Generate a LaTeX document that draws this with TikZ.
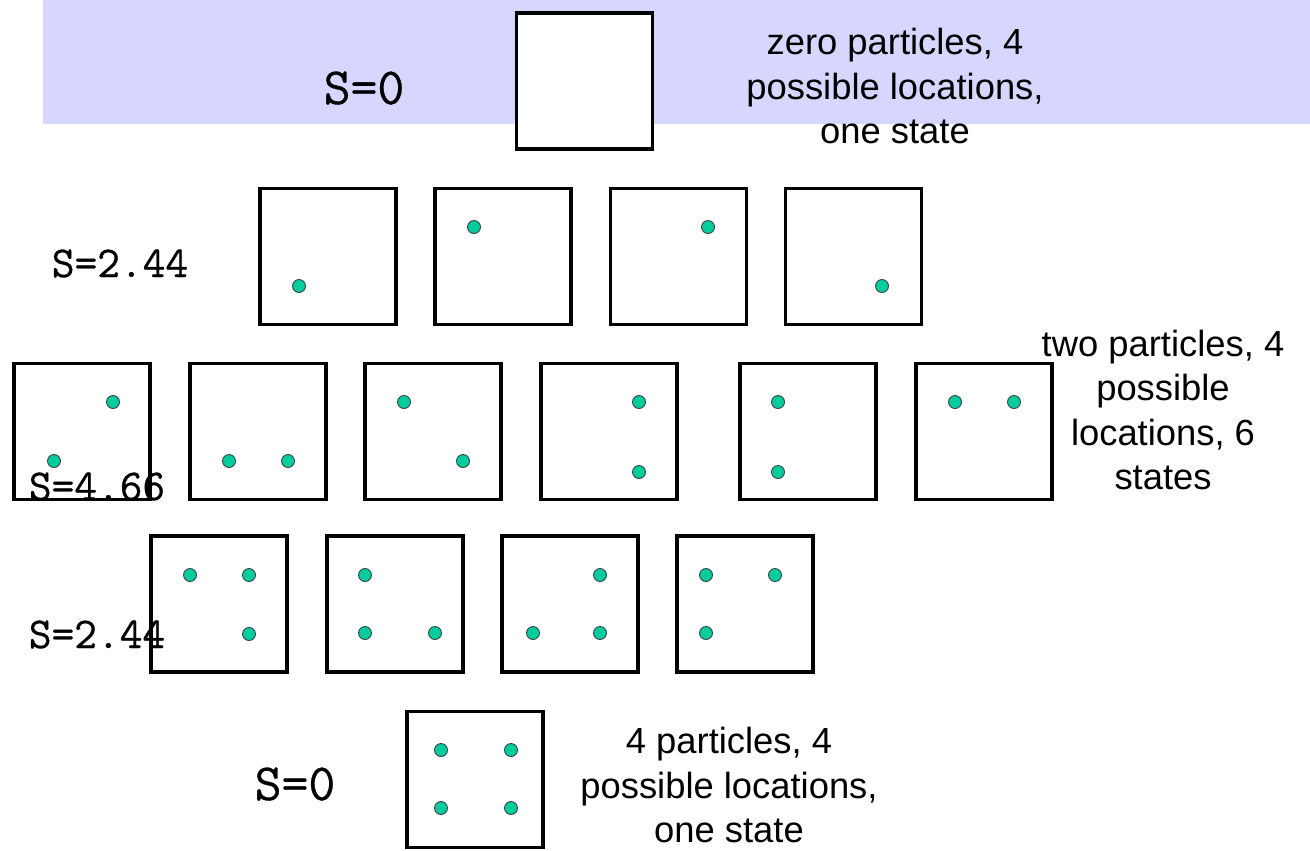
\documentclass[tikz,border=0pt]{standalone}
\usepackage{fontspec}
\setmainfont{Liberation Sans}
\newfontfamily\entfont{Latin Modern Mono}[FakeBold=0.6]
\usepackage{tikz}
\usetikzlibrary{positioning,calc}
\usepackage{xcolor}
\definecolor{bandblue}{RGB}{214,214,255}
\definecolor{particle}{RGB}{0,204,158}

\begin{document}
\begin{tikzpicture}[
  x=0.02cm, y=-0.02cm,
  cell/.style={rectangle, draw, line width=2.2pt, fill=white, minimum size=2.72cm, inner sep=0pt},
  dot/.style={circle, draw=black!75, line width=0.5pt, fill=particle, minimum size=0.26cm, inner sep=0pt},
  entropy/.style={font=\entfont\fontsize{25.1}{29}\selectfont, anchor=base, inner sep=0pt},
  bigentropy/.style={font=\entfont\fontsize{29.7}{34}\selectfont, anchor=base, inner sep=0pt},
  note/.style={font=\fontsize{20.7}{25.3}\selectfont, align=center, inner sep=0pt}
]
  \useasboundingbox (0,0) rectangle (1310,850);

  % Highlight band
  \fill[bandblue] (43,0) rectangle (1310,124);

  % Zero particles
  \node[cell] (b0) at (584.5,81) {};
  \node[bigentropy] (s0) at (364,104) {S=0};
  \node[note] (n0) at (895,86) {zero particles, 4\\possible locations,\\one state};

  % One particle
  \node[cell] (b1a) at (328,256.5) {};
  \node[cell] (b1b) at (503,256.5) {};
  \node[cell] (b1c) at (678.5,256.5) {};
  \node[cell] (b1d) at (853.5,256.5) {};
  \node[dot] (d1a) at (299,286) {};
  \node[dot] (d1b) at (474,227) {};
  \node[dot] (d1c) at (708,227) {};
  \node[dot] (d1d) at (882,286) {};
  \node[entropy] (s1) at (120,277) {S=2.44};

  % Two particles
  \node[cell] (b2a) at (82,431.5) {};
  \node[cell] (b2b) at (258,431.5) {};
  \node[cell] (b2c) at (433,431.5) {};
  \node[cell] (b2d) at (609,431.5) {};
  \node[cell] (b2e) at (808,431.5) {};
  \node[cell] (b2f) at (984,431.5) {};
  \node[dot] (d2a1) at (113,402) {};
  \node[dot] (d2a2) at (54,461) {};
  \node[dot] (d2b1) at (229,461) {};
  \node[dot] (d2b2) at (288,461) {};
  \node[dot] (d2c1) at (404,402) {};
  \node[dot] (d2c2) at (463,461) {};
  \node[dot] (d2d1) at (639,402) {};
  \node[dot] (d2d2) at (639,472) {};
  \node[dot] (d2e1) at (778,402) {};
  \node[dot] (d2e2) at (778,472) {};
  \node[dot] (d2f1) at (955,402) {};
  \node[dot] (d2f2) at (1014,402) {};
  \node[entropy] (s2) at (97,500) {S=4.66};
  \node[note] (n2) at (1163,410) {two particles, 4\\possible\\locations, 6\\states};

  % Three particles
  \node[cell] (b3a) at (219,604) {};
  \node[cell] (b3b) at (395,604) {};
  \node[cell] (b3c) at (570,604) {};
  \node[cell] (b3d) at (745,604) {};
  \node[dot] (d3a1) at (190,575) {};
  \node[dot] (d3a2) at (249,575) {};
  \node[dot] (d3a3) at (249,634) {};
  \node[dot] (d3b1) at (365,575) {};
  \node[dot] (d3b2) at (365,633) {};
  \node[dot] (d3b3) at (435,633) {};
  \node[dot] (d3c1) at (600,575) {};
  \node[dot] (d3c2) at (533,633) {};
  \node[dot] (d3c3) at (600,633) {};
  \node[dot] (d3d1) at (706,575) {};
  \node[dot] (d3d2) at (775,575) {};
  \node[dot] (d3d3) at (706,633) {};
  \node[entropy] (s3) at (97,648) {S=2.44};

  % Four particles
  \node[cell] (b4) at (475,779.5) {};
  \node[dot] (d4a) at (441,750) {};
  \node[dot] (d4b) at (511,750) {};
  \node[dot] (d4c) at (441,808) {};
  \node[dot] (d4d) at (511,808) {};
  \node[bigentropy] (s4) at (295,800) {S=0};
  \node[note] (n4) at (729,785) {4 particles, 4\\possible locations,\\one state};
\end{tikzpicture}
\end{document}
